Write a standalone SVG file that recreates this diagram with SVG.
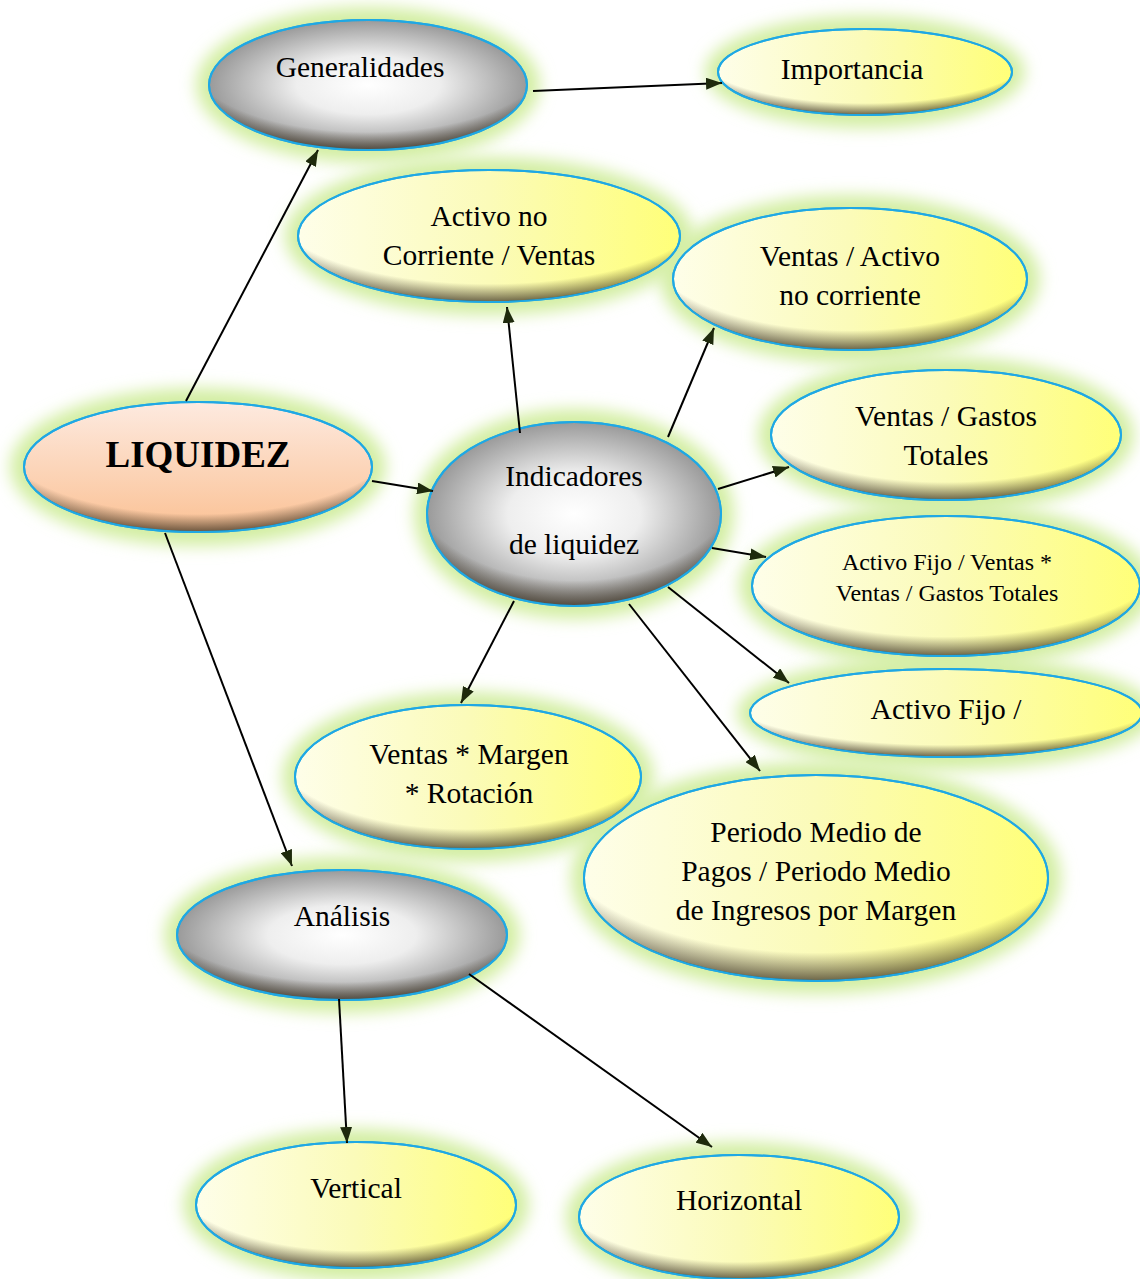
<svg xmlns="http://www.w3.org/2000/svg" width="1140" height="1279" viewBox="0 0 1140 1279">
<defs>
<filter id="blur" x="-20%" y="-30%" width="140%" height="160%"><feGaussianBlur stdDeviation="8"/></filter>
<linearGradient id="gYellow" x1="0" y1="0" x2="1" y2="0">
<stop offset="0" stop-color="#fefee9"/><stop offset="0.5" stop-color="#fbfbb9"/><stop offset="1" stop-color="#ffff78"/>
</linearGradient>
<radialGradient id="gGray" cx="0.5" cy="0.5" r="0.5">
<stop offset="0" stop-color="#ffffff"/><stop offset="0.45" stop-color="#eeeeee"/><stop offset="1" stop-color="#9a9a9a"/>
</radialGradient>
<linearGradient id="gPeach" x1="0" y1="0" x2="0" y2="1">
<stop offset="0" stop-color="#fdeae0"/><stop offset="1" stop-color="#fbc194"/>
</linearGradient>
<radialGradient id="gShade" cx="0.5" cy="0.3" r="0.72" fx="0.5" fy="0.3">
<stop offset="0.78" stop-color="#3a3020" stop-opacity="0"/><stop offset="1" stop-color="#3a3020" stop-opacity="0.85"/>
</radialGradient>
<marker id="arrow" viewBox="0 0 16 12" refX="16" refY="6" markerWidth="16" markerHeight="12" markerUnits="userSpaceOnUse" orient="auto">
<path d="M0,0 L16,6 L0,12 z" fill="#1e2a0c"/>
</marker>
</defs>
<style>
.glow{fill:#d3eea3;filter:url(#blur)}
.y{fill:url(#gYellow);stroke:#1fa8e4;stroke-width:2}
.g{fill:url(#gGray);stroke:#1fa8e4;stroke-width:2}
.p{fill:url(#gPeach);stroke:#1fa8e4;stroke-width:2}
.sh{fill:url(#gShade)}
.rim{fill:none;stroke:#1fa8e4;stroke-width:2}
text{font-family:"Liberation Serif","Times New Roman",serif;font-size:29.5px;fill:#000;text-anchor:middle}
.c line{stroke:#000;stroke-width:2;marker-end:url(#arrow)}
</style>
<rect width="1140" height="1279" fill="#ffffff"/>

<g id="glows">
<ellipse class="glow" cx="368" cy="85" rx="172" ry="78"/>
<ellipse class="glow" cx="865" cy="72" rx="160" ry="56"/>
<ellipse class="glow" cx="489" cy="236" rx="204" ry="79"/>
<ellipse class="glow" cx="850" cy="279" rx="190" ry="84"/>
<ellipse class="glow" cx="946" cy="435" rx="188" ry="78"/>
<ellipse class="glow" cx="946" cy="586" rx="207" ry="83"/>
<ellipse class="glow" cx="946" cy="713" rx="209" ry="57"/>
<ellipse class="glow" cx="468" cy="777" rx="186" ry="85"/>
<ellipse class="glow" cx="816" cy="878" rx="245" ry="116"/>
<ellipse class="glow" cx="198" cy="467" rx="188" ry="79"/>
<ellipse class="glow" cx="574" cy="514" rx="160" ry="105"/>
<ellipse class="glow" cx="342" cy="935" rx="178" ry="78"/>
<ellipse class="glow" cx="356" cy="1205" rx="173" ry="76"/>
<ellipse class="glow" cx="739" cy="1217" rx="173" ry="75"/>
</g>

<g id="n-generalidades">
<ellipse class="g" cx="368" cy="85" rx="159" ry="65"/><ellipse class="sh" cx="368" cy="85" rx="159" ry="65"/><ellipse class="rim" cx="368" cy="85" rx="159" ry="65"/>
<text x="360" y="77">Generalidades</text>
</g>
<g id="n-importancia">
<ellipse class="y" cx="865" cy="72" rx="147" ry="43"/><ellipse class="sh" cx="865" cy="72" rx="147" ry="43"/><ellipse class="rim" cx="865" cy="72" rx="147" ry="43"/>
<text x="852" y="79">Importancia</text>
</g>
<g id="n-activo-no-corriente">
<ellipse class="y" cx="489" cy="236" rx="191" ry="66"/><ellipse class="sh" cx="489" cy="236" rx="191" ry="66"/><ellipse class="rim" cx="489" cy="236" rx="191" ry="66"/>
<text x="489" y="226">Activo no</text>
<text x="489" y="265">Corriente / Ventas</text>
</g>
<g id="n-ventas-activo">
<ellipse class="y" cx="850" cy="279" rx="177" ry="71"/><ellipse class="sh" cx="850" cy="279" rx="177" ry="71"/><ellipse class="rim" cx="850" cy="279" rx="177" ry="71"/>
<text x="850" y="266">Ventas / Activo</text>
<text x="850" y="305">no corriente</text>
</g>
<g id="n-ventas-gastos">
<ellipse class="y" cx="946" cy="435" rx="175" ry="65"/><ellipse class="sh" cx="946" cy="435" rx="175" ry="65"/><ellipse class="rim" cx="946" cy="435" rx="175" ry="65"/>
<text x="946" y="426">Ventas / Gastos</text>
<text x="946" y="465">Totales</text>
</g>
<g id="n-activo-fijo-ventas">
<ellipse class="y" cx="946" cy="586" rx="194" ry="70"/><ellipse class="sh" cx="946" cy="586" rx="194" ry="70"/><ellipse class="rim" cx="946" cy="586" rx="194" ry="70"/>
<text x="947" y="570" style="font-size:24px">Activo Fijo / Ventas *</text>
<text x="947" y="601" style="font-size:24px">Ventas / Gastos Totales</text>
</g>
<g id="n-activo-fijo">
<ellipse class="y" cx="946" cy="713" rx="196" ry="44"/><ellipse class="sh" cx="946" cy="713" rx="196" ry="44"/><ellipse class="rim" cx="946" cy="713" rx="196" ry="44"/>
<text x="946" y="719">Activo Fijo /</text>
</g>
<g id="n-ventas-margen">
<ellipse class="y" cx="468" cy="777" rx="173" ry="72"/><ellipse class="sh" cx="468" cy="777" rx="173" ry="72"/><ellipse class="rim" cx="468" cy="777" rx="173" ry="72"/>
<text x="469" y="764">Ventas * Margen</text>
<text x="469" y="803">* Rotación</text>
</g>
<g id="n-periodo">
<ellipse class="y" cx="816" cy="878" rx="232" ry="103"/><ellipse class="sh" cx="816" cy="878" rx="232" ry="103"/><ellipse class="rim" cx="816" cy="878" rx="232" ry="103"/>
<text x="816" y="842">Periodo Medio de</text>
<text x="816" y="881">Pagos / Periodo Medio</text>
<text x="816" y="920">de Ingresos por Margen</text>
</g>
<g id="n-liquidez">
<ellipse class="p" cx="198" cy="467" rx="174" ry="65"/><ellipse class="sh" cx="198" cy="467" rx="174" ry="65"/><ellipse class="rim" cx="198" cy="467" rx="174" ry="65"/>
<text x="198" y="467" style="font-size:37px;font-weight:bold">LIQUIDEZ</text>
</g>
<g id="n-indicadores">
<ellipse class="g" cx="574" cy="514" rx="147" ry="92"/><ellipse class="sh" cx="574" cy="514" rx="147" ry="92"/><ellipse class="rim" cx="574" cy="514" rx="147" ry="92"/>
<text x="574" y="486">Indicadores</text>
<text x="574" y="554">de liquidez</text>
</g>
<g id="n-analisis">
<ellipse class="g" cx="342" cy="935" rx="165" ry="65"/><ellipse class="sh" cx="342" cy="935" rx="165" ry="65"/><ellipse class="rim" cx="342" cy="935" rx="165" ry="65"/>
<text x="342" y="926">Análisis</text>
</g>
<g id="n-vertical">
<ellipse class="y" cx="356" cy="1205" rx="160" ry="63"/><ellipse class="sh" cx="356" cy="1205" rx="160" ry="63"/><ellipse class="rim" cx="356" cy="1205" rx="160" ry="63"/>
<text x="356" y="1198">Vertical</text>
</g>
<g id="n-horizontal">
<ellipse class="y" cx="739" cy="1217" rx="160" ry="62"/><ellipse class="sh" cx="739" cy="1217" rx="160" ry="62"/><ellipse class="rim" cx="739" cy="1217" rx="160" ry="62"/>
<text x="739" y="1210">Horizontal</text>
</g>

<g id="connectors" class="c">
<line x1="186" y1="401" x2="318" y2="150"/>
<line x1="533" y1="91" x2="722" y2="83"/>
<line x1="372" y1="481" x2="433" y2="491"/>
<line x1="165" y1="533" x2="292" y2="866"/>
<line x1="520" y1="433" x2="507" y2="307"/>
<line x1="668" y1="437" x2="714" y2="328"/>
<line x1="718" y1="489" x2="789" y2="467"/>
<line x1="712" y1="548" x2="766" y2="557"/>
<line x1="668" y1="587" x2="789" y2="683"/>
<line x1="629" y1="604" x2="760" y2="771"/>
<line x1="514" y1="601" x2="461" y2="703"/>
<line x1="339" y1="999" x2="347" y2="1143"/>
<line x1="469" y1="974" x2="712" y2="1147"/>
</g>
</svg>
